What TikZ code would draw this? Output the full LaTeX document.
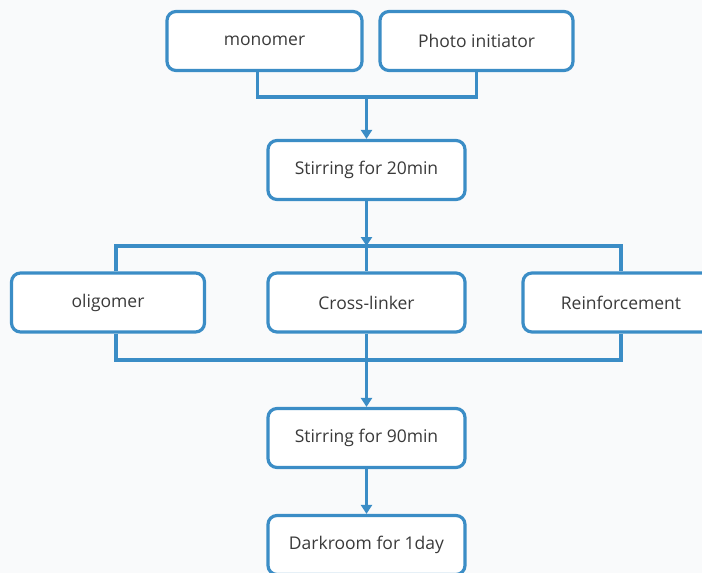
\documentclass[tikz,border=0pt]{standalone}
\usepackage{fontspec}
\setmainfont{Open Sans}
\usetikzlibrary{arrows.meta}
\definecolor{boxblue}{HTML}{3B8DC6}
\definecolor{txt}{HTML}{3A3A3A}
\definecolor{bg}{HTML}{F9FAFB}
\begin{document}
\begin{tikzpicture}[x=1pt,y=-1pt,
  stepbox/.style={draw=boxblue,line width=3.2pt,rounded corners=9pt,fill=white,
    minimum width=195pt,minimum height=59pt,inner sep=0pt,font=\fontsize{17.5}{20}\selectfont,text=txt},
  conn/.style={draw=boxblue,line width=3.2pt},
  arr/.style={conn,-{Triangle[width=11pt,length=9pt]}}]
\fill[bg] (0,0) rectangle (702,573);
\useasboundingbox (0,0) rectangle (702,573);
\begin{scope}
\clip (0,0) rectangle (702,573);
\node[stepbox] (mono) at (264.5,41) {monomer};
\node[stepbox,minimum width=193pt] (photo) at (476.5,41) {Photo initiator};
\node[stepbox,minimum width=197pt] (s20) at (366.5,170) {Stirring for 20min};
\node[stepbox,minimum width=193pt] (olig) at (108,302.5) {oligomer};
\node[stepbox,minimum width=197pt] (cross) at (366.5,302.5) {Cross-linker};
\node[stepbox,minimum width=196pt] (reinf) at (621,302.5) {Reinforcement};
\node[stepbox,minimum width=197pt] (s90) at (366.5,438) {Stirring for 90min};
\node[stepbox,minimum width=197pt] (dark) at (366.5,545) {Darkroom for 1day};
\coordinate (j1) at (366.5,97);
\coordinate (j2) at (366.5,246);
\coordinate (j3) at (366.5,360);
\draw[conn] ([xshift=-7pt]mono.south) |- (j1) -| (photo.south);
\draw[arr] (j1) -- (s20.north);
\draw[conn] ([xshift=8pt]olig.north) |- (j2) -| (reinf.north);
\draw[conn] (j2) -- (cross.north);
\draw[arr] (s20.south) -- (j2);
\draw[conn] ([xshift=8pt]olig.south) |- (j3) -| (reinf.south);
\draw[conn] (cross.south) -- (j3);
\draw[arr] (j3) -- (s90.north);
\draw[arr] (s90.south) -- (dark.north);
\end{scope}
\end{tikzpicture}
\end{document}
